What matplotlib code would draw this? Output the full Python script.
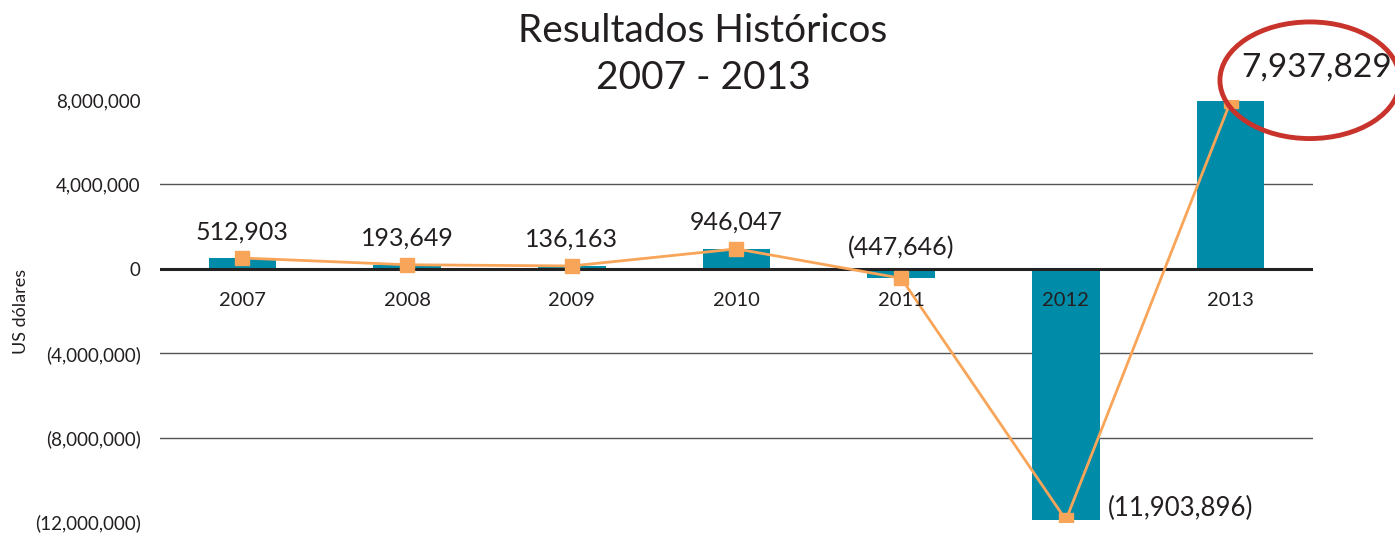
import numpy as np
from matplotlib import pyplot as plt
from matplotlib.patches import Ellipse

plt.rcParams['font.family'] = ['Lato', 'DejaVu Sans']

years = ['2007', '2008', '2009', '2010', '2011', '2012', '2013']
results = np.array([512903, 193649, 136163, 946047, -447646, -11903896, 7937829])
yticks = [-12000000, -8000000, -4000000, 0, 4000000, 8000000]
ytick_labels = ['(12,000,000)', '(8,000,000)', '(4,000,000)', '0', '4,000,000', '8,000,000']

bar_color = '#008BA8'
line_color = '#F8A559'
text_color = '#231F20'


def fmt(v):
    s = f'{abs(v):,}'
    return f'({s})' if v < 0 else s


fig = plt.figure(figsize=(13.95, 5.35), dpi=100)
ax = fig.add_axes([0.1147, 0.0243, 0.8265, 0.7887])

x = np.arange(len(years))
ax.bar(x, results, width=0.41, color=bar_color, zorder=2)
ax.plot(x, results, color=line_color, linewidth=2, marker='s', markersize=10, zorder=3)

ax.set_xlim(-0.5, len(years) - 0.5)
ax.set_ylim(-12000000, 8000000)
ax.set_yticks(yticks)
ax.set_yticklabels(ytick_labels, fontsize=13.5, color=text_color)
ax.tick_params(axis='y', length=0, pad=14)
ax.set_xticks([])

for y in [-8000000, -4000000, 4000000]:
    ax.axhline(y, color='#555555', linewidth=1, zorder=1)
ax.axhline(0, color='#222222', linewidth=2.2, zorder=2.5)

for s in ax.spines.values():
    s.set_visible(False)

ax.set_ylabel('US dólares', fontsize=13, color=text_color, labelpad=4)

# year labels below the zero line
for i, yr in enumerate(years):
    ax.annotate(yr, (i, 0), xytext=(0, -23), textcoords='offset points',
                ha='center', va='center', fontsize=14.5, color=text_color, zorder=4)

# value labels
for i, v in enumerate(results[:5]):
    off = 19 if v > 0 else 15
    ax.annotate(fmt(v), (i, max(v, 0)), xytext=(0, off), textcoords='offset points',
                ha='center', va='center', fontsize=18, color=text_color)
ax.annotate(fmt(results[5]), (5, results[5]), xytext=(30, 8), textcoords='offset points',
            ha='left', va='center', fontsize=18.5, color=text_color)
ax.annotate(fmt(results[6]), (6, results[6]), xytext=(8, 24), textcoords='offset points',
            ha='left', va='center', fontsize=24, color=text_color)

fig.text(0.504, 0.942, 'Resultados Históricos', ha='center', va='center', fontsize=28, color=text_color)
fig.text(0.504, 0.855, '2007 - 2013', ha='center', va='center', fontsize=28, color=text_color)

ell = Ellipse((0.939, 0.85), 0.129, 0.218, transform=fig.transFigure,
              fill=False, edgecolor='#C8332B', linewidth=3.5)
fig.patches.append(ell)

fig.savefig('out.png', dpi=100)
